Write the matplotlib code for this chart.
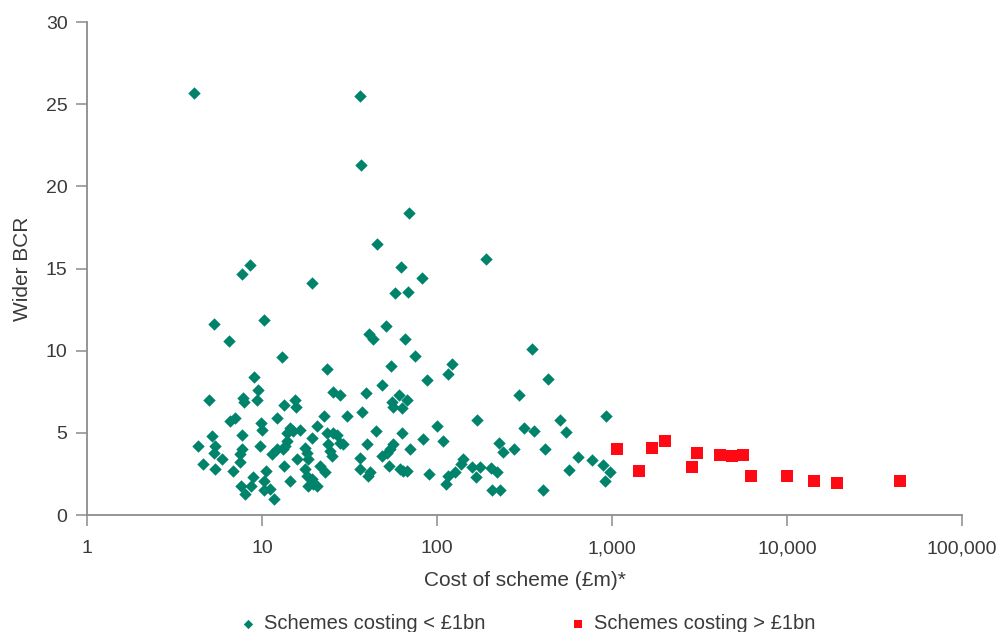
import numpy as np
import matplotlib.pyplot as plt
from matplotlib.ticker import FixedLocator, NullLocator

plt.rcParams['font.family'] = ['Liberation Sans', 'DejaVu Sans']

# Schemes costing < £1bn (cost in £m, wider BCR)
small_cost = [4.1, 36.3, 37, 69.5, 45.2, 190, 62.3, 82.4, 8.5, 7.7, 19.2, 57.5, 68,
              5.3, 10.3, 6.5, 50.9, 40.9, 42.9, 65.9, 13.0, 75.2, 54.4, 23.4, 9.0,
              87.3, 48.3, 9.5, 5.0, 7.8, 7.9, 9.3, 25.6, 27.9, 15.4, 15.7, 13.4,
              39.3, 60.7, 67.1, 55.6, 56.3, 62.8, 37.1, 22.6, 30.5, 12.1, 7.0, 6.6,
              9.9, 10.0, 14.5, 15.1, 13.8, 16.5, 20.5, 99.6, 44.8, 23.4, 25.6, 26.7,
              62.8, 5.2, 7.7, 82.8, 19.2, 4.3, 5.4, 5.3, 7.7, 7.5, 9.7, 13.8, 13.5,
              13.2, 12.1, 11.4, 17.6, 18.0, 18.4, 23.9, 24.5, 25.0, 27.9, 29.2, 40.0,
              56.3, 53.9, 51.6, 48.3, 70.1, 5.9, 4.6, 7.5, 15.9, 21.4, 36.3, 53.4,
              13.4, 5.4, 6.8, 10.5, 17.6, 18.0, 19.2, 22.9, 36.3, 41.4, 40.5, 61.5,
              64.2, 67.1, 90, 8.9, 8.7, 10.2, 10.2, 14.5, 7.6, 8.0, 11.1, 11.7, 18.4,
              19.6, 20.5,
              349, 121, 115, 433, 295, 924, 170, 505, 315, 358, 544, 108, 227, 239,
              277, 414, 140, 138, 159, 175, 204, 221, 126, 116, 113, 166, 205, 229,
              403, 637, 765, 892, 974, 912, 565]
small_bcr = [25.7, 25.5, 21.3, 18.4, 16.5, 15.6, 15.1, 14.4, 15.2, 14.7, 14.1, 13.5, 13.6,
             11.6, 11.9, 10.6, 11.5, 11.0, 10.7, 10.7, 9.6, 9.7, 9.1, 8.9, 8.4,
             8.2, 7.9, 7.6, 7.0, 7.1, 6.9, 7.0, 7.5, 7.3, 7.0, 6.6, 6.7,
             7.4, 7.3, 7.0, 6.9, 6.6, 6.5, 6.3, 6.0, 6.0, 5.9, 5.9, 5.7,
             5.6, 5.2, 5.3, 5.1, 5.0, 5.2, 5.4, 5.4, 5.1, 5.0, 5.0, 4.9,
             5.0, 4.8, 4.9, 4.6, 4.7, 4.2, 4.2, 3.8, 4.0, 3.7, 4.2, 4.5, 4.2,
             4.0, 4.0, 3.7, 4.1, 3.8, 3.4, 4.3, 3.9, 3.6, 4.4, 4.3, 4.3,
             4.3, 4.0, 3.8, 3.6, 4.0, 3.4, 3.1, 3.2, 3.4, 3.0, 3.5, 3.0,
             3.0, 2.8, 2.7, 2.7, 2.8, 2.4, 2.2, 2.6, 2.8, 2.6, 2.4, 2.8,
             2.7, 2.7, 2.5, 2.3, 1.8, 2.1, 1.5, 2.1, 1.8, 1.3, 1.6, 1.0, 1.8,
             1.9, 1.8,
             10.1, 9.2, 8.6, 8.3, 7.3, 6.0, 5.8, 5.8, 5.3, 5.1, 5.05, 4.5, 4.4, 3.85,
             4.0, 4.0, 3.4, 3.1, 2.9, 2.9, 2.85, 2.65, 2.65, 2.4, 1.9, 2.3, 1.5, 1.55,
             1.5, 3.55, 3.35, 3.05, 2.65, 2.1, 2.75]

# Schemes costing > £1bn
big_cost = [1064, 1432, 1687, 2010, 2852, 3049, 4140, 4830, 5580, 6205, 9960,
            14320, 19400, 44250]
big_bcr = [4.0, 2.7, 4.1, 4.5, 2.95, 3.8, 3.65, 3.6, 3.65, 2.35, 2.35, 2.05, 1.95, 2.05]

xticks = [1, 10, 100, 1000, 10000, 100000]
xtick_labels = ['1', '10', '100', '1,000', '10,000', '100,000']
yticks = [0, 5, 10, 15, 20, 25, 30]

teal = '#00836B'
red = '#FF0A14'
grey = '#8C8C8C'
text_col = '#3A3A3A'

fig = plt.figure(figsize=(10.05, 6.32), dpi=100)
ax = fig.add_axes([0.0866, 0.185, 0.8706, 0.78])

ax.scatter(small_cost, small_bcr, marker='D', s=40, color=teal, linewidths=0,
           label='Schemes costing < £1bn', zorder=3)
ax.scatter(big_cost, big_bcr, marker='s', s=72, color=red, linewidths=0,
           label='Schemes costing > £1bn', zorder=3)

ax.set_xscale('log')
ax.set_xlim(1, 100000)
ax.set_ylim(0, 30)
ax.xaxis.set_major_locator(FixedLocator(xticks))
ax.xaxis.set_minor_locator(NullLocator())
ax.set_xticklabels(xtick_labels)
ax.set_yticks(yticks)

for side in ['top', 'right']:
    ax.spines[side].set_visible(False)
for side in ['left', 'bottom']:
    ax.spines[side].set_color(grey)
    ax.spines[side].set_linewidth(1.3)

ax.tick_params(axis='both', colors=grey, length=8, width=1.1, labelsize=14,
               labelcolor=text_col)
ax.tick_params(axis='x', pad=10)
ax.tick_params(axis='y', pad=6)

ax.set_xlabel('Cost of scheme (£m)*', fontsize=15, color=text_col, labelpad=10)
ax.set_ylabel('Wider BCR', fontsize=15, color=text_col, labelpad=10)

fig.legend(loc='lower center', bbox_to_anchor=(0.525, -0.03), ncol=2, frameon=False,
           fontsize=14.5, labelcolor=text_col, handlelength=0.8, handletextpad=0.4,
           columnspacing=4.2, markerscale=0.75)

fig.savefig('out.png', dpi=100)
